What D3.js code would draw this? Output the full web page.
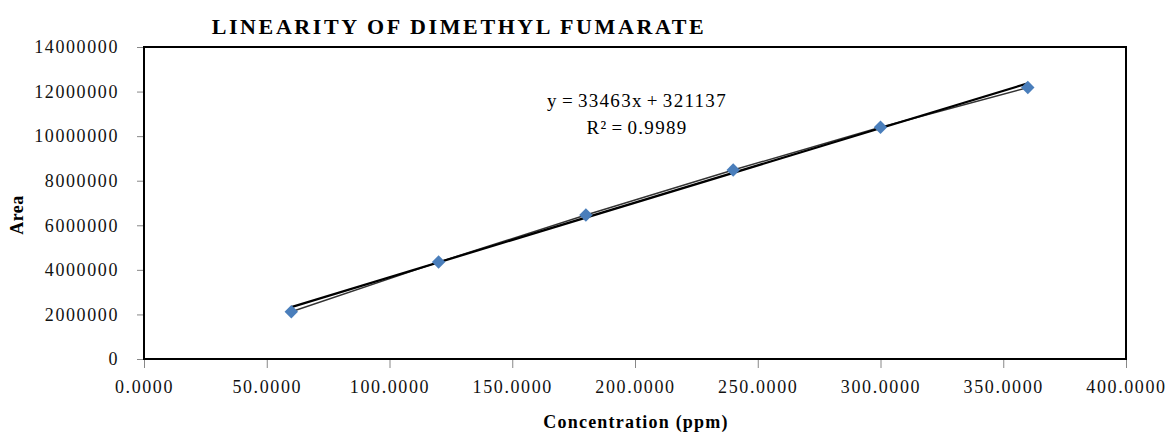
<!DOCTYPE html>
<html>
<head>
<meta charset="utf-8">
<script src="https://cdn.jsdelivr.net/npm/d3@7"></script>
<style>
  body { margin: 0; background: #fff; }
  svg text { font-family: "Liberation Serif", "DejaVu Serif", serif; }
</style>
</head>
<body>
<div id="chart"></div>
<script>
// concentration (ppm) and peak area
var conc = [60, 120, 180, 240, 300, 360];
var area = [2120000, 4350000, 6460000, 8480000, 10400000, 12180000];

var xTicks = [0, 50, 100, 150, 200, 250, 300, 350, 400];
var yTicks = [0, 2000000, 4000000, 6000000, 8000000, 10000000, 12000000, 14000000];

// trendline as printed on the chart
var slope = 33463,
	intercept = 321137,
	rSquared = "0.9989";

var w = 1169,
	h = 435,
	padL = 144,
	padR = 1126,
	padT = 47,
	padB = 359;

var svg = d3.select("#chart")
			.append("svg")
			.attr("width", w)
			.attr("height", h)

var x = d3.scaleLinear().domain([0, 400]).range([padL, padR]);
var y = d3.scaleLinear().domain([0, 14000000]).range([padB, padT]);

var xAxis = svg.append("g")
	.attr("transform", "translate(0," + padB + ")")
	.call(d3.axisBottom(x).tickValues(xTicks).tickSize(9).tickPadding(12)
		.tickFormat(function(d) { return d.toFixed(4); }))

var yAxis = svg.append("g")
	.attr("transform", "translate(" + padL + ",0)")
	.call(d3.axisLeft(y).tickValues(yTicks).tickSize(7).tickPadding(18)
		.tickFormat(function(d) { return d; }))

svg.selectAll(".domain").remove();
svg.selectAll(".tick line").style("stroke", "#888");
svg.selectAll(".tick text")
	.style("font-size", "18px")
	.style("letter-spacing", "1.6px")
	.style("fill", "#111")

// plot area border
svg.append("rect")
	.attr("x", padL)
	.attr("y", padT)
	.attr("width", padR - padL)
	.attr("height", padB - padT)
	.style("fill", "none")
	.style("stroke", "#000")
	.style("stroke-width", 2)

// line joining the points
var pts = conc.map(function(c, i) { return [c, area[i]]; });
svg.append("path")
	.datum(pts)
	.attr("d", d3.line().x(function(d) { return x(d[0]); }).y(function(d) { return y(d[1]); }))
	.style("fill", "none")
	.style("stroke", "#333")
	.style("stroke-width", 1.4)

// linear trendline
var x0 = d3.min(conc), x1 = d3.max(conc);
svg.append("line")
	.attr("x1", x(x0))
	.attr("y1", y(slope * x0 + intercept))
	.attr("x2", x(x1))
	.attr("y2", y(slope * x1 + intercept))
	.style("stroke", "#000")
	.style("stroke-width", 2.2)

svg.selectAll(".pt")
	.data(pts)
	.enter().append("path")
	.attr("class", "pt")
	.attr("transform", function(d) { return "translate(" + x(d[0]) + "," + y(d[1]) + ")"; })
	.attr("d", d3.symbol().type(d3.symbolDiamond2).size(115))
	.style("fill", "#4a7ebb")

// equation
svg.append("text")
	.attr("x", 637)
	.attr("y", 107)
	.style("text-anchor", "middle")
	.style("font-size", "19px")
	.style("letter-spacing", "1.3px")
	.style("word-spacing", "-2px")
	.text("y = " + slope + "x  + " + intercept)

svg.append("text")
	.attr("x", 637)
	.attr("y", 134)
	.style("text-anchor", "middle")
	.style("font-size", "19px")
	.style("letter-spacing", "1.3px")
	.style("word-spacing", "-2px")
	.text("R² = " + rSquared)

// titles
svg.append("text")
	.attr("x", 459)
	.attr("y", 34)
	.style("text-anchor", "middle")
	.style("font-size", "22px")
	.style("font-weight", "bold")
	.style("letter-spacing", "2.6px")
	.text("LINEARITY OF DIMETHYL FUMARATE")

svg.append("text")
	.attr("x", 636)
	.attr("y", 428)
	.style("text-anchor", "middle")
	.style("font-size", "18px")
	.style("font-weight", "bold")
	.style("letter-spacing", "1.2px")
	.text("Concentration (ppm)")

svg.append("text")
	.attr("transform", "translate(23,215) rotate(-90)")
	.style("text-anchor", "middle")
	.style("font-size", "18px")
	.style("font-weight", "bold")
	.style("letter-spacing", "0.5px")
	.text("Area")
</script>
</body>
</html>
